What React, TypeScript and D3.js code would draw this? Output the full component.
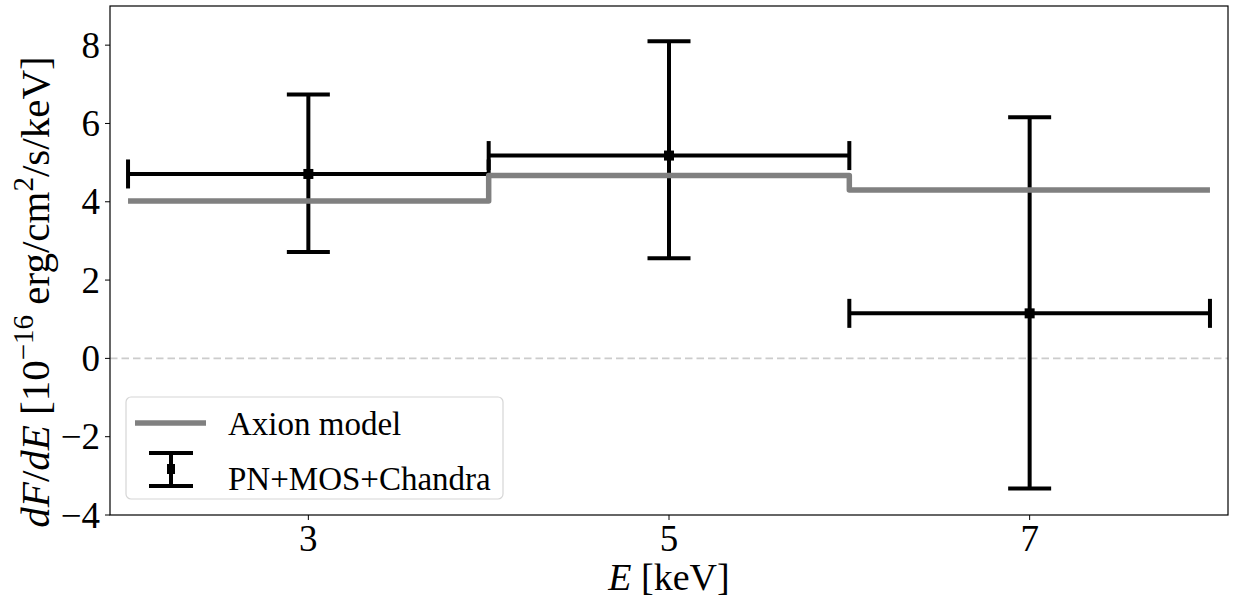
import React from 'react';
import * as d3 from 'd3';

// data
const energy = [3, 5, 7];
const flux = [4.71, 5.18, 1.15];
const errMinus = [1.99, 2.62, 4.47];
const errPlus = [2.03, 2.92, 5.01];
const binHalfWidth = [1, 1, 1];

const modelEdges = [2, 4, 6, 8];
const modelValues = [4.02, 4.67, 4.3];

const xTicks = [3, 5, 7];
const yTicks = [-4, -2, 0, 2, 4, 6, 8];

const W = 1233,
  H = 601;
const plot = { left: 110, right: 1228, top: 6, bottom: 515 };
const FONT = 'Liberation Serif, DejaVu Serif, serif';

const fmt = (v: number) => (v < 0 ? '\u2212' + Math.abs(v) : String(v));

export default function App() {
  const x = d3.scaleLinear().domain([1.9, 8.1]).range([plot.left, plot.right]);
  const y = d3.scaleLinear().domain([-4, 9]).range([plot.bottom, plot.top]);

  // step line for the model, last level held to the final edge
  const stepPts: [number, number][] = modelEdges.map((e, i) => [
    e,
    modelValues[Math.min(i, modelValues.length - 1)],
  ]);
  const modelPath = d3
    .line<[number, number]>()
    .curve(d3.curveStepAfter)
    .x(d => x(d[0]))
    .y(d => y(d[1]))(stepPts);

  const capY = 21.5; // half width of caps on vertical errors
  const capX = 14.5; // half height of caps on horizontal errors

  return (
    <svg
      width={W}
      height={H}
      style={{ position: 'absolute', left: 0, top: 0, background: '#fff', fontFamily: FONT }}
    >
      <rect x={0} y={0} width={W} height={H} fill="#fff" />

      {/* zero line */}
      <line
        x1={plot.left}
        x2={plot.right}
        y1={y(0)}
        y2={y(0)}
        stroke="#cccccc"
        strokeWidth={1.6}
        strokeDasharray="7.5,4"
      />

      {/* error bars */}
      <g stroke="#000" strokeWidth={4} fill="none">
        {energy.map((e, i) => {
          const cx = x(e);
          const cy = y(flux[i]);
          const yt = y(flux[i] + errPlus[i]);
          const yb = y(flux[i] - errMinus[i]);
          const xl = x(e - binHalfWidth[i]);
          const xr = x(e + binHalfWidth[i]);
          return (
            <g key={i}>
              <line x1={xl} x2={xr} y1={cy} y2={cy} />
              <line x1={cx} x2={cx} y1={yt} y2={yb} />
              <line x1={cx - capY} x2={cx + capY} y1={yt} y2={yt} />
              <line x1={cx - capY} x2={cx + capY} y1={yb} y2={yb} />
              <line x1={xl} x2={xl} y1={cy - capX} y2={cy + capX} />
              <line x1={xr} x2={xr} y1={cy - capX} y2={cy + capX} />
              <rect x={cx - 5} y={cy - 5} width={10} height={10} fill="#000" stroke="none" />
            </g>
          );
        })}
      </g>

      {/* model */}
      <path
        d={modelPath || ''}
        fill="none"
        stroke="#808080"
        strokeWidth={5.5}
        strokeLinejoin="round"
      />

      {/* frame */}
      <rect
        x={plot.left}
        y={plot.top}
        width={plot.right - plot.left}
        height={plot.bottom - plot.top}
        fill="none"
        stroke="#000"
        strokeWidth={1.2}
      />

      {/* y axis */}
      {yTicks.map(t => (
        <g key={'y' + t}>
          <line x1={plot.left - 5} x2={plot.left} y1={y(t)} y2={y(t)} stroke="#000" strokeWidth={1} />
          <text
            x={plot.left - 10}
            y={y(t)}
            dy="0.34em"
            textAnchor="end"
            fontSize={37}
            fill="#000"
          >
            {fmt(t)}
          </text>
        </g>
      ))}

      {/* x axis */}
      {xTicks.map(t => (
        <g key={'x' + t}>
          <line x1={x(t)} x2={x(t)} y1={plot.bottom} y2={plot.bottom + 5} stroke="#000" strokeWidth={1} />
          <text x={x(t)} y={551} textAnchor="middle" fontSize={37} fill="#000">
            {fmt(t)}
          </text>
        </g>
      ))}

      {/* axis labels */}
      <text x={669} y={590} textAnchor="middle" fontSize={38} fill="#000">
        <tspan fontStyle="italic">E</tspan>
        <tspan> [keV]</tspan>
      </text>
      <text
        transform="translate(49,292) rotate(-90)"
        textAnchor="middle"
        fontSize={41}
        fill="#000"
      >
        <tspan fontStyle="italic">dF</tspan>
        <tspan>/</tspan>
        <tspan fontStyle="italic">dE</tspan>
        <tspan> [10</tspan>
        <tspan dy={-16} fontSize={29}>{'\u221216'}</tspan>
        <tspan dy={16}> erg/cm</tspan>
        <tspan dy={-16} fontSize={29}>2</tspan>
        <tspan dy={16}>/s/keV]</tspan>
      </text>

      {/* legend */}
      <g>
        <rect
          x={126}
          y={397}
          width={377}
          height={102}
          rx={5}
          fill="#fff"
          fillOpacity={0.8}
          stroke="#d6d6d6"
          strokeWidth={1.2}
        />
        <line x1={135} x2={206} y1={423} y2={423} stroke="#808080" strokeWidth={5.5} />
        <text x={228} y={435} fontSize={33} fill="#000">
          Axion model
        </text>
        <g stroke="#000" strokeWidth={4}>
          <line x1={171} x2={171} y1={453} y2={486} />
          <line x1={149} x2={193} y1={453} y2={453} />
          <line x1={149} x2={193} y1={486} y2={486} />
          <rect x={167} y={464} width={8} height={10} fill="#000" stroke="none" />
        </g>
        <text x={228} y={490} fontSize={33} fill="#000">
          PN+MOS+Chandra
        </text>
      </g>
    </svg>
  );
}
